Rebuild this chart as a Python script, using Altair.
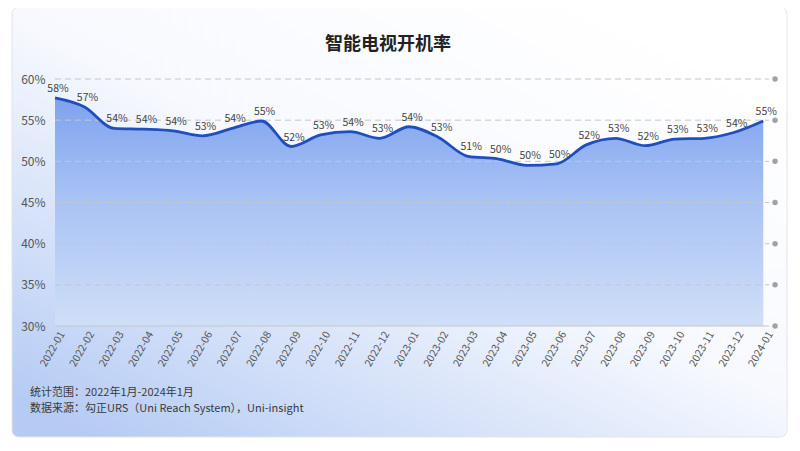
import altair as alt
import pandas as pd

months = ["2022-01", "2022-02", "2022-03", "2022-04", "2022-05", "2022-06", "2022-07",
          "2022-08", "2022-09", "2022-10", "2022-11", "2022-12", "2023-01", "2023-02",
          "2023-03", "2023-04", "2023-05", "2023-06", "2023-07", "2023-08", "2023-09",
          "2023-10", "2023-11", "2023-12", "2024-01"]
values = [57.7, 56.6, 54.0, 53.9, 53.7, 53.1, 54.0, 54.9, 51.8, 53.2, 53.6, 52.8, 54.2,
          52.9, 50.6, 50.3, 49.5, 49.7, 52.0, 52.8, 51.9, 52.7, 52.8, 53.5, 54.9]
label_text = ["58%", "57%", "54%", "54%", "54%", "53%", "54%", "55%", "52%", "53%", "54%",
              "53%", "54%", "53%", "51%", "50%", "50%", "50%", "52%", "53%", "52%", "53%",
              "53%", "54%", "55%"]
y_ticks = [30, 35, 40, 45, 50, 55, 60]
title_text = "智能电视开机率"
footer_lines = ["统计范围：2022年1月-2024年1月", "数据来源：勾正URS（Uni Reach System），Uni-insight"]

FONT = "Noto Sans CJK SC"

df = pd.DataFrame({"i": list(range(len(months))), "month": months, "v": values,
                   "lab": label_text, "base": [30] * len(months)})
grid_df = pd.DataFrame({"t": y_ticks, "x0": [0] * len(y_ticks), "x1": [24.2] * len(y_ticks),
                        "xd": [24.4] * len(y_ticks),
                        "dash": ["solid" if t == 30 else "dash" for t in y_ticks]})

labels_js = "[" + ",".join("'" + m + "'" for m in months) + "]"

xscale = alt.Scale(domain=[0, 24.5], nice=False, zero=False)
yscale = alt.Scale(domain=[30, 60], nice=False, zero=False)

x_axis = alt.Axis(values=list(range(len(months))), labelExpr=labels_js + "[datum.value]",
                  labelAngle=300, labelAlign="right", labelBaseline="middle",
                  labelFontSize=10.5, labelColor="#555555", labelFont=FONT,
                  ticks=False, domain=False, grid=False, labelPadding=6, labelOffset=7,
                  title=None, labelOverlap=False, orient="bottom", zindex=2)
y_axis = alt.Axis(values=y_ticks, labelExpr="datum.value + '%'", labelFontSize=12,
                  labelColor="#555555", labelFont=FONT, ticks=False, domain=False,
                  grid=False, labelPadding=10, title=None, orient="left", zindex=2)

# card background
card = alt.Chart(pd.DataFrame({"a": [0]})).mark_rect(
    cornerRadius=7, stroke="#e2e4e8", strokeWidth=1,
    color=alt.Gradient(gradient="linear", x1=0.9, y1=0.1, x2=0.1, y2=1,
                       stops=[alt.GradientStop(offset=0, color="#ffffff"),
                              alt.GradientStop(offset=0.45, color="#f7f9fe"),
                              alt.GradientStop(offset=1, color="#b5cbf4")]),
    clip=False
).encode(x=alt.value(-43), x2=alt.value(732), y=alt.value(-72), y2=alt.value(358))

area = alt.Chart(df).mark_area(
    interpolate="monotone",
    color=alt.Gradient(gradient="linear", x1=0, y1=0, x2=0, y2=1,
                       stops=[alt.GradientStop(offset=0, color="#7ea2ee"),
                              alt.GradientStop(offset=0.45, color="#a9c3f4"),
                              alt.GradientStop(offset=1, color="#d0dff8")])
).encode(
    x=alt.X("i:Q", scale=xscale, axis=x_axis),
    y=alt.Y("v:Q", scale=yscale, axis=y_axis),
    y2="base:Q"
)

grid = alt.Chart(grid_df).mark_rule(strokeWidth=1, color="#c4c6cc").encode(
    x=alt.X("x0:Q", scale=xscale, axis=x_axis), x2="x1:Q",
    y=alt.Y("t:Q", scale=yscale, axis=y_axis),
    strokeDash=alt.StrokeDash("dash:N", scale=alt.Scale(domain=["solid", "dash"],
                                                         range=[[1, 0], [6, 4]]), legend=None)
)
dots = alt.Chart(grid_df).mark_circle(size=30, color="#a0a2a8", opacity=1, clip=False).encode(
    x=alt.X("xd:Q", scale=xscale, axis=x_axis), y=alt.Y("t:Q", scale=yscale, axis=y_axis)
)

line = alt.Chart(df).mark_line(interpolate="monotone", color="#1f4fbf", strokeWidth=2.8).encode(
    x=alt.X("i:Q", scale=xscale, axis=x_axis), y=alt.Y("v:Q", scale=yscale, axis=y_axis)
)

labels = alt.Chart(df).mark_text(dy=-9, dx=3, fontSize=10.5, color="#444444", font=FONT).encode(
    x=alt.X("i:Q", scale=xscale, axis=x_axis), y=alt.Y("v:Q", scale=yscale, axis=y_axis),
    text="lab:N"
)

title = alt.Chart(pd.DataFrame({"t": [title_text]})).mark_text(
    fontSize=18, fontWeight="bold", color="#222222", font=FONT, align="center", clip=False
).encode(x=alt.value(333), y=alt.value(-34), text="t:N")

footer1 = alt.Chart(pd.DataFrame({"t": [footer_lines[0]]})).mark_text(
    fontSize=11, color="#3a3a3a", font=FONT, align="left", baseline="middle", clip=False
).encode(x=alt.value(-25), y=alt.value(314), text="t:N")
footer2 = alt.Chart(pd.DataFrame({"t": [footer_lines[1]]})).mark_text(
    fontSize=11, color="#3a3a3a", font=FONT, align="left", baseline="middle", clip=False
).encode(x=alt.value(-25), y=alt.value(330), text="t:N")

chart = alt.layer(card, area, grid, dots, line, labels, title, footer1, footer2).properties(
    width=723, height=247,
    autosize=alt.AutoSizeParams(type="none"),
    padding={"left": 47, "top": 71, "right": 14, "bottom": 117},
    background="#ffffff"
).configure_view(stroke=None)

chart.save("out.html", embed_options={"renderer": "svg", "actions": False})
